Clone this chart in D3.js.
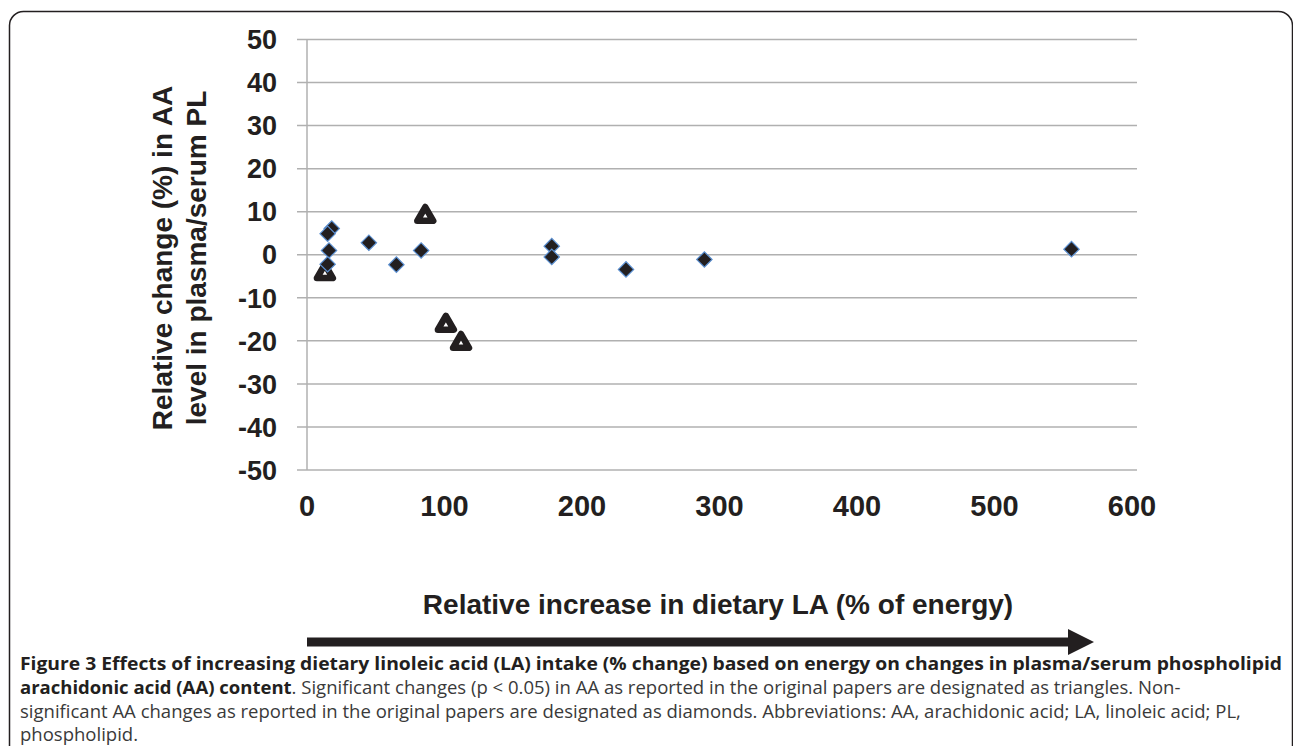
<!DOCTYPE html>
<html>
<head>
<meta charset="utf-8">
<script src="https://cdn.jsdelivr.net/npm/d3@7/dist/d3.min.js"></script>
<style>
  body { margin: 0; background: #fff; }
  svg { display: block; }
</style>
</head>
<body>
<div id="chart"></div>
<script>
// ---- data ----
var xTicks = [0, 100, 200, 300, 400, 500, 600];
var yTicks = [50, 40, 30, 20, 10, 0, -10, -20, -30, -40, -50];

// non-significant changes (diamonds)
var diamondX = [18, 15, 16, 15, 45, 65, 83, 178, 178, 232, 289, 556];
var diamondY = [6.1, 4.9, 1.0, -2.2, 2.8, -2.3, 1.0, 2.0, -0.5, -3.4, -1.1, 1.3];

// significant changes (triangles)
var triangleX = [13, 86, 101, 112];
var triangleY = [-4.0, 9.3, -16.0, -20.2];

var xTitle = "Relative increase in dietary LA (% of energy)";
var yTitleLines = ["Relative change (%) in AA", "level in plasma/serum PL"];

var captionLine1 = "Figure 3 Effects of increasing dietary linoleic acid (LA) intake (% change) based on energy on changes in plasma/serum phospholipid";
var captionLine2Bold = "arachidonic acid (AA) content";
var captionLine2 = ". Significant changes (p < 0.05) in AA as reported in the original papers are designated as triangles. Non-";
var captionLine3 = "significant AA changes as reported in the original papers are designated as diamonds. Abbreviations: AA, arachidonic acid; LA, linoleic acid; PL,";
var captionLine4 = "phospholipid.";

// ---- layout ----
var width = 1293, height = 746;
var ink = "#231f20";
var gridColor = "#b0b0b0";
var chartFont = "'Liberation Sans', Arial, sans-serif";
var captionFont = "'Open Sans', 'Noto Sans', sans-serif";

var svg = d3.select("#chart").append("svg")
    .attr("width", width)
    .attr("height", height);

// rounded frame (runs off the right and bottom edges)
svg.append("rect")
    .attr("x", 9.5).attr("y", 11.5)
    .attr("width", 1283).attr("height", 820)
    .attr("rx", 14).attr("ry", 14)
    .attr("fill", "none")
    .attr("stroke", ink)
    .attr("stroke-width", 1.5);

var x = d3.scaleLinear().domain([0, 600]).range([307, 1132]);
var y = d3.scaleLinear().domain([-50, 50]).range([470, 39.5]);

// gridlines + outside tick marks
svg.append("g").selectAll("line")
    .data(yTicks)
    .enter().append("line")
    .attr("x1", x(0) - 10)
    .attr("x2", x(600) + 5)
    .attr("y1", function(d) { return y(d); })
    .attr("y2", function(d) { return y(d); })
    .attr("stroke", gridColor)
    .attr("stroke-width", 1.5);

// vertical axis line
svg.append("line")
    .attr("x1", x(0)).attr("x2", x(0))
    .attr("y1", y(50)).attr("y2", y(-50))
    .attr("stroke", gridColor)
    .attr("stroke-width", 1.5);

// y tick labels
svg.append("g").selectAll("text")
    .data(yTicks)
    .enter().append("text")
    .attr("x", x(0) - 30)
    .attr("y", function(d) { return y(d); })
    .attr("dy", "0.36em")
    .attr("text-anchor", "end")
    .style("font-family", chartFont)
    .style("font-weight", "bold")
    .style("font-size", "27px")
    .attr("fill", ink)
    .text(function(d) { return d; });

// x tick labels
svg.append("g").selectAll("text")
    .data(xTicks)
    .enter().append("text")
    .attr("x", function(d) { return x(d); })
    .attr("y", 506)
    .attr("dy", "0.36em")
    .attr("text-anchor", "middle")
    .style("font-family", chartFont)
    .style("font-weight", "bold")
    .style("font-size", "29px")
    .attr("fill", ink)
    .text(function(d) { return d; });

// y axis title (two lines, rotated)
var yTitle = svg.append("text")
    .attr("transform", "translate(162,258) rotate(-90)")
    .attr("text-anchor", "middle")
    .style("font-family", chartFont)
    .style("font-weight", "bold")
    .style("font-size", "28px")
    .attr("fill", ink);
yTitle.selectAll("tspan")
    .data(yTitleLines)
    .enter().append("tspan")
    .attr("x", 0)
    .attr("y", function(d, i) { return i * 34; })
    .attr("dy", "0.36em")
    .text(function(d) { return d; });

// x axis title
svg.append("text")
    .attr("x", 718)
    .attr("y", 604)
    .attr("dy", "0.36em")
    .attr("text-anchor", "middle")
    .style("font-family", chartFont)
    .style("font-weight", "bold")
    .style("font-size", "28px")
    .attr("fill", ink)
    .text(xTitle);

// arrow under the x title
var arrowY = 642, arrowStart = x(0), arrowTip = 1094;
svg.append("path")
    .attr("d", "M" + arrowStart + "," + (arrowY - 4.5) +
        "H" + (arrowTip - 26) + "V" + (arrowY - 13) +
        "L" + arrowTip + "," + arrowY +
        "L" + (arrowTip - 26) + "," + (arrowY + 13) +
        "V" + (arrowY + 4.5) + "H" + arrowStart + "Z")
    .attr("fill", ink);

// triangles (drawn first, diamonds sit on top)
var triSymbol = d3.symbol().type(d3.symbolTriangle).size(110);
svg.append("g").selectAll("path")
    .data(triangleX)
    .enter().append("path")
    .attr("d", triSymbol)
    .attr("transform", function(d, i) { return "translate(" + x(d) + "," + (y(triangleY[i]) + 1.5) + ")"; })
    .attr("fill", "#fff")
    .attr("stroke", ink)
    .attr("stroke-width", 6.5)
    .attr("stroke-linejoin", "round");

// diamonds
var diaSymbol = d3.symbol().type(d3.symbolSquare).size(118);
svg.append("g").selectAll("path")
    .data(diamondX)
    .enter().append("path")
    .attr("d", diaSymbol)
    .attr("transform", function(d, i) { return "translate(" + x(d) + "," + y(diamondY[i]) + ") rotate(45)"; })
    .attr("fill", ink)
    .attr("stroke", "#5b8fd0")
    .attr("stroke-width", 1.2);

// caption: typeset a bit large, then squeeze horizontally (narrow face look)
var cap = svg.append("g")
    .style("font-family", captionFont)
    .style("font-size", "18.5px");

var l3 = cap.append("text").attr("x", 0).attr("y", 718)
    .attr("fill", "#3a3a3a").text(captionLine3);
var sx = 1222 / l3.node().getComputedTextLength();
cap.attr("transform", "translate(20,0) scale(" + sx + ",1)");

cap.append("text")
    .attr("x", 0).attr("y", 670)
    .attr("textLength", 1262 / sx).attr("lengthAdjust", "spacingAndGlyphs")
    .style("font-weight", "bold")
    .attr("fill", ink)
    .text(captionLine1);

var l2 = cap.append("text").attr("x", 0).attr("y", 694);
l2.append("tspan").style("font-weight", "bold").attr("fill", ink).text(captionLine2Bold);
l2.append("tspan").attr("fill", "#3a3a3a").text(captionLine2);

cap.append("text").attr("x", 0).attr("y", 741)
    .attr("fill", "#3a3a3a").text(captionLine4);
</script>
</body>
</html>
